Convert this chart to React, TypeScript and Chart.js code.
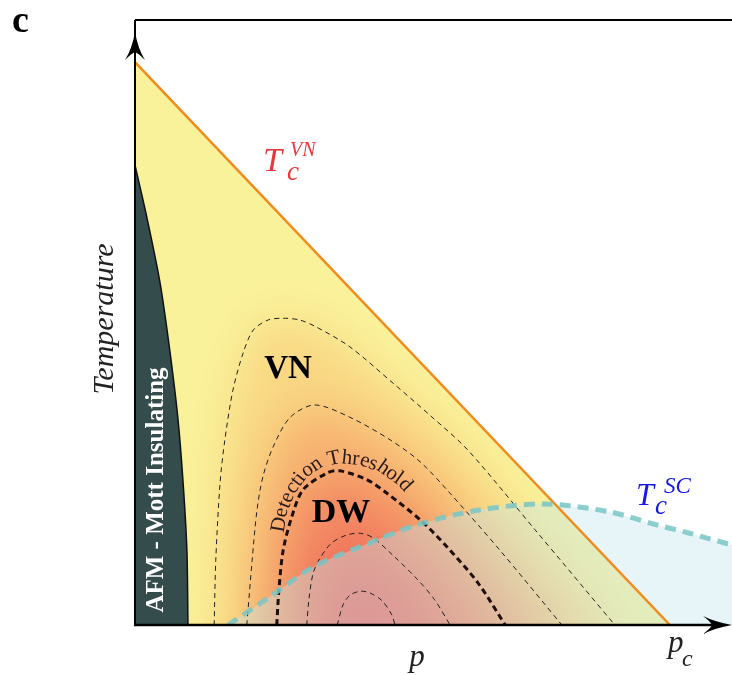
import { useEffect, useRef } from 'react';
import { Chart, registerables } from 'chart.js';
Chart.register(...registerables);

// Axis extents (p in units of p_c, T in units of T_c^VN at p = 0)
const P_MAX = 1.116;
const T_MAX = 1.075;

// T_c^VN boundary
const vnP = [0, 1];
const vnT = [1, 0];

// AFM Mott insulating boundary
const afmP = [0, 0.022, 0.047, 0.065, 0.080, 0.090, 0.097, 0.099];
const afmT = [0.817, 0.725, 0.607, 0.488, 0.369, 0.252, 0.133, 0];

// Superconducting dome T_c^SC
const scP = [0.174, 0.252, 0.333, 0.439, 0.527, 0.641, 0.766, 0.888, 0.963, 1.037, 1.116];
const scT = [0, 0.050, 0.103, 0.146, 0.178, 0.204, 0.215, 0.201, 0.181, 0.163, 0.142];

// DW order-parameter contours (outer -> inner)
const c1P = [0.148, 0.151, 0.159, 0.168, 0.183, 0.202, 0.221, 0.249, 0.277, 0.308, 0.340, 0.402, 0.482, 0.551, 0.622, 0.748, 0.897];
const c1T = [0, 0.115, 0.252, 0.329, 0.417, 0.483, 0.524, 0.542, 0.545, 0.542, 0.529, 0.494, 0.430, 0.373, 0.311, 0.169, 0];

const c2P = [0.209, 0.219, 0.228, 0.239, 0.258, 0.290, 0.336, 0.402, 0.477, 0.533, 0.589, 0.682, 0.798];
const c2T = [0, 0.115, 0.204, 0.263, 0.316, 0.369, 0.391, 0.369, 0.329, 0.290, 0.234, 0.133, 0];

// Detection threshold contour
const thP = [0.265, 0.269, 0.277, 0.293, 0.314, 0.359, 0.383, 0.434, 0.471, 0.533, 0.583, 0.641, 0.692];
const thT = [0, 0.062, 0.133, 0.192, 0.240, 0.270, 0.274, 0.258, 0.234, 0.187, 0.139, 0.075, 0];

const c4P = [0.321, 0.325, 0.333, 0.346, 0.368, 0.396, 0.421, 0.445, 0.482, 0.527, 0.560, 0.589];
const c4T = [0, 0.044, 0.092, 0.119, 0.146, 0.160, 0.163, 0.155, 0.124, 0.082, 0.045, 0];

const c5P = [0.378, 0.389, 0.402, 0.421, 0.439, 0.462, 0.480, 0.486];
const c5T = [0, 0.036, 0.053, 0.060, 0.057, 0.043, 0.018, 0];

const zip = (xs: number[], ys: number[]) => xs.map((x, i) => ({ x, y: ys[i] }));

const FONT = '"Liberation Serif", "Times New Roman", "DejaVu Serif", serif';

const heatLevels = [
  { p: c1P, t: c1T, color: 'rgb(249,216,132)' },
  { p: c2P, t: c2T, color: 'rgb(247,180,114)' },
  { p: thP, t: thT, color: 'rgb(243,140,100)' },
  { p: c4P, t: c4T, color: 'rgb(240,112,92)' },
  { p: c5P, t: c5T, color: 'rgb(236,98,92)' },
];

function textOnPath(ctx: CanvasRenderingContext2D, text: string, pts: number[][], start: number) {
  const segs: { x0: number; y0: number; dx: number; dy: number; len: number; cum: number }[] = [];
  let cum = 0;
  for (let i = 0; i < pts.length - 1; i++) {
    const dx = pts[i + 1][0] - pts[i][0];
    const dy = pts[i + 1][1] - pts[i][1];
    const len = Math.hypot(dx, dy);
    segs.push({ x0: pts[i][0], y0: pts[i][1], dx, dy, len, cum });
    cum += len;
  }
  const at = (d: number) => {
    let s = segs[segs.length - 1];
    for (const sg of segs) {
      if (d <= sg.cum + sg.len) { s = sg; break; }
    }
    const f = (d - s.cum) / s.len;
    return { x: s.x0 + s.dx * f, y: s.y0 + s.dy * f, a: Math.atan2(s.dy, s.dx) };
  };
  let d = start;
  for (const ch of text) {
    const w = ctx.measureText(ch).width;
    const p = at(d + w / 2);
    ctx.save();
    ctx.translate(p.x, p.y);
    ctx.rotate(p.a);
    ctx.fillText(ch, -w / 2, 0);
    ctx.restore();
    d += w;
  }
}

function arrowUp(ctx: CanvasRenderingContext2D, cx: number, ty: number) {
  ctx.beginPath();
  ctx.moveTo(cx, ty);
  ctx.quadraticCurveTo(cx + 3, ty + 17, cx + 10, ty + 28);
  ctx.quadraticCurveTo(cx + 3, ty + 21, cx, ty + 20);
  ctx.quadraticCurveTo(cx - 3, ty + 21, cx - 10, ty + 28);
  ctx.quadraticCurveTo(cx - 3, ty + 17, cx, ty);
  ctx.closePath();
  ctx.fill();
}

function arrowRight(ctx: CanvasRenderingContext2D, tx: number, cy: number) {
  ctx.beginPath();
  ctx.moveTo(tx, cy);
  ctx.quadraticCurveTo(tx - 17, cy - 3, tx - 29, cy - 9);
  ctx.quadraticCurveTo(tx - 21, cy - 3, tx - 20, cy);
  ctx.quadraticCurveTo(tx - 21, cy + 3, tx - 29, cy + 9);
  ctx.quadraticCurveTo(tx - 17, cy + 3, tx, cy);
  ctx.closePath();
  ctx.fill();
}

const phasePlugin = {
  id: 'phasePlugin',
  afterDatasetDraw(chart: any, args: any) {
    const ds = chart.data.datasets[args.index];
    if (ds.label !== 'VN region') return;
    const { ctx, chartArea } = chart;
    const xs = chart.scales.x;
    const ys = chart.scales.y;
    ctx.save();
    ctx.beginPath();
    ctx.moveTo(xs.getPixelForValue(0), ys.getPixelForValue(0));
    vnP.forEach((p, i) => ctx.lineTo(xs.getPixelForValue(p), ys.getPixelForValue(vnT[i])));
    ctx.closePath();
    ctx.clip();
    ctx.filter = 'blur(20px)';
    heatLevels.forEach((l) => {
      const pts = l.p.map((p, i) => [xs.getPixelForValue(p), ys.getPixelForValue(l.t[i])]);
      ctx.beginPath();
      ctx.moveTo(pts[0][0], chartArea.bottom + 50);
      pts.forEach(([px, py]) => ctx.lineTo(px, py));
      ctx.lineTo(pts[pts.length - 1][0], chartArea.bottom + 50);
      ctx.closePath();
      ctx.fillStyle = l.color;
      ctx.fill();
    });
    ctx.restore();
  },
  afterDraw(chart: any) {
    const { ctx, chartArea } = chart;
    const L = chartArea.left, R = chartArea.right, B = chartArea.bottom, Tp = chartArea.top;
    ctx.save();
    // frame & axes
    ctx.strokeStyle = '#000';
    ctx.fillStyle = '#000';
    ctx.lineWidth = 2;
    ctx.beginPath();
    ctx.moveTo(L, Tp);
    ctx.lineTo(R, Tp);
    ctx.stroke();
    ctx.beginPath();
    ctx.moveTo(L, B + 1);
    ctx.lineTo(L, Tp);
    ctx.stroke();
    ctx.lineWidth = 2.5;
    ctx.beginPath();
    ctx.moveTo(L - 1, B);
    ctx.lineTo(R - 12, B);
    ctx.stroke();
    arrowUp(ctx, L, Tp + 12);
    arrowRight(ctx, R, B);

    ctx.textBaseline = 'alphabetic';
    // panel letter
    ctx.fillStyle = '#000';
    ctx.font = `bold 38px ${FONT}`;
    ctx.textAlign = 'left';
    ctx.fillText('c', 12, 32);

    // T_c^VN
    ctx.fillStyle = '#E8383D';
    ctx.font = `italic 34px ${FONT}`;
    ctx.fillText('T', 263, 171);
    ctx.font = `italic 20px ${FONT}`;
    ctx.fillText('VN', 290, 156);
    ctx.font = `italic 27px ${FONT}`;
    ctx.fillText('c', 287, 180);

    // T_c^SC
    ctx.fillStyle = '#1818E6';
    ctx.font = `italic 32px ${FONT}`;
    ctx.fillText('T', 636, 505);
    ctx.font = `italic 23px ${FONT}`;
    ctx.fillText('SC', 664, 493);
    ctx.font = `italic 27px ${FONT}`;
    ctx.fillText('c', 655, 514);

    // Temperature
    ctx.fillStyle = '#222';
    ctx.save();
    ctx.translate(113, 319);
    ctx.rotate(-Math.PI / 2);
    ctx.font = `italic 30px ${FONT}`;
    ctx.textAlign = 'center';
    ctx.fillText('Temperature', 0, 0);
    ctx.restore();

    // AFM - Mott Insulating
    ctx.save();
    ctx.fillStyle = '#fff';
    ctx.translate(163, 490);
    ctx.rotate(-Math.PI / 2);
    ctx.font = `bold 25px ${FONT}`;
    ctx.textAlign = 'center';
    ctx.fillText('AFM - Mott Insulating', 0, 0);
    ctx.restore();

    // VN, DW
    ctx.fillStyle = '#000';
    ctx.textAlign = 'center';
    ctx.font = `bold 33px ${FONT}`;
    ctx.fillText('VN', 288, 378);
    ctx.font = `bold 34px ${FONT}`;
    ctx.fillText('DW', 341, 522);

    // Detection Threshold along arc
    ctx.fillStyle = '#2a1a1a';
    ctx.textAlign = 'left';
    ctx.font = `21px ${FONT}`;
    textOnPath(ctx, 'Detection Threshold', [
      [283, 536], [287, 513], [295, 493], [307, 477], [322, 467], [340, 463],
      [360, 465], [380, 472], [397, 484], [412, 500], [420, 512],
    ], 3);

    // p, p_c
    ctx.fillStyle = '#222';
    ctx.textAlign = 'center';
    ctx.font = `italic 31px ${FONT}`;
    ctx.fillText('p', 417, 666);
    ctx.textAlign = 'left';
    ctx.fillText('p', 668, 652);
    ctx.font = `italic 24px ${FONT}`;
    ctx.fillText('c', 682, 666);
    ctx.restore();
  },
};

export default function App() {
  const ref = useRef<HTMLCanvasElement | null>(null);
  useEffect(() => {
    document.body.style.margin = '0';
    if (!ref.current) return;
    const contour = (label: string, p: number[], t: number[], width: number, dash: number[], color: string) => ({
      label, data: zip(p, t), borderColor: color, borderWidth: width, borderDash: dash,
      fill: false, tension: 0.3, pointRadius: 0,
    });
    const chart = new Chart(ref.current, {
      type: 'line',
      data: {
        datasets: [
          { label: 'Tc SC', data: zip(scP, scT), borderColor: 'rgba(120,198,198,0.85)', borderWidth: 5, borderDash: [11, 7], fill: false, tension: 0.3, pointRadius: 0 },
          { label: 'Tc VN', data: zip(vnP, vnT), borderColor: '#F08C1E', borderWidth: 2.5, fill: false, tension: 0, pointRadius: 0 },
          contour('Detection Threshold', thP, thT, 3, [6, 4], '#1e0f0f'),
          contour('c1', c1P, c1T, 1, [5, 4], '#222'),
          contour('c2', c2P, c2T, 1, [5, 4], '#222'),
          contour('c4', c4P, c4T, 1, [5, 4], '#222'),
          contour('c5', c5P, c5T, 1, [5, 4], '#222'),
          { label: 'AFM', data: zip(afmP, afmT), borderColor: '#111', borderWidth: 1.5, backgroundColor: '#344C4B', fill: 'origin', tension: 0.3, pointRadius: 0 },
          { label: 'SC region', data: zip(scP, scT), borderWidth: 0, borderColor: 'rgba(0,0,0,0)', backgroundColor: 'rgba(195,230,240,0.4)', fill: 'origin', tension: 0.3, pointRadius: 0 },
          { label: 'VN region', data: zip(vnP, vnT), borderWidth: 0, borderColor: 'rgba(0,0,0,0)', backgroundColor: 'rgb(250,242,155)', fill: 'origin', tension: 0, pointRadius: 0 },
        ],
      },
      options: {
        responsive: false,
        animation: false,
        layout: { padding: { left: 135, right: 0, top: 20, bottom: 50 } },
        scales: {
          x: { type: 'linear', min: 0, max: P_MAX, display: false },
          y: { type: 'linear', min: 0, max: T_MAX, display: false },
        },
        plugins: { legend: { display: false }, tooltip: { enabled: false }, title: { display: false } },
        elements: { point: { radius: 0 } },
      },
      plugins: [phasePlugin],
    } as any);
    return () => chart.destroy();
  }, []);
  return (
    <div style={{ width: 732, height: 675 }}>
      <canvas ref={ref} width={732} height={675} style={{ display: 'block' }} />
    </div>
  );
}
